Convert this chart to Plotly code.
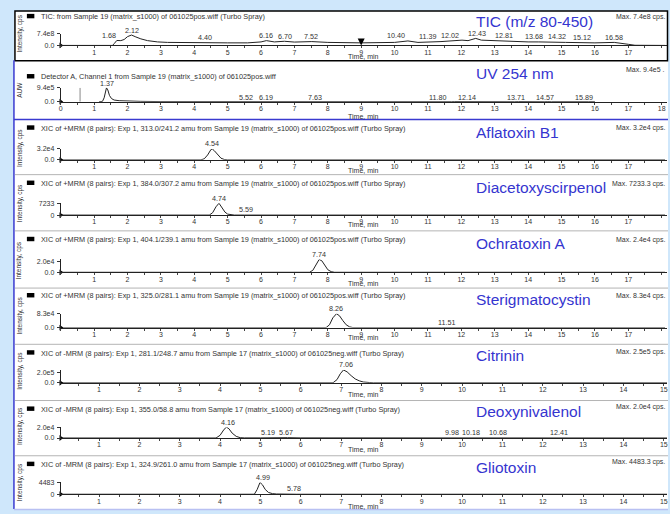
import plotly.graph_objects as go

W, H = 670, 514
FONT = "Liberation Sans"

# ---------------- data ----------------
tic_t = [0, 1.55, 1.60, 1.68, 1.80, 1.90, 2.00, 2.12, 2.25, 2.40, 2.60, 2.90, 3.20, 4.00, 4.40, 5.00,
         5.60, 6.00, 6.16, 6.40, 6.70, 7.00, 7.52, 8.00, 9.00, 10.00, 10.40, 10.70, 11.39, 11.70,
         12.02, 12.20, 12.43, 12.60, 12.81, 13.20, 13.68, 14.00, 14.32, 14.70, 15.12, 16.00, 16.58,
         17.00, 17.20, 18.10]
tic_i = [0, 0, 1.1e8, 3.1e8, 3.0e8, 3.7e8, 5.5e8, 6.5e8, 5.3e8, 4.1e8, 3.0e8, 2.2e8, 1.9e8, 1.6e8, 1.9e8, 1.6e8,
         1.6e8, 2.2e8, 3.0e8, 2.2e8, 2.6e8, 2.1e8, 2.4e8, 1.9e8, 1.6e8, 1.9e8, 2.8e8, 1.9e8, 2.4e8, 2.8e8,
         3.3e8, 3.0e8, 4.4e8, 3.3e8, 3.1e8, 2.6e8, 2.6e8, 2.2e8, 2.2e8, 1.9e8, 1.9e8, 1.6e8, 1.9e8,
         0.7e8, 0.1e8, 0]
tic_peaks = [1.68, 2.12, 4.40, 6.16, 6.70, 7.52, 10.40, 11.39, 12.02, 12.43, 12.81, 13.68, 14.32, 15.12, 16.58]

uv_t = [1.15, 1.25, 1.30, 1.34, 1.37, 1.41, 1.46, 1.52, 1.60, 1.75, 2.00, 2.40, 3.00, 3.50, 3.60, 3.70,
        3.90, 4.00, 4.20, 5.40, 5.52, 5.65, 6.10, 6.19, 6.30, 7.50, 7.63, 7.75, 11.70, 11.80, 11.95,
        12.14, 12.30, 13.60, 13.71, 13.85, 14.50, 14.57, 14.70, 15.80, 15.89, 16.00]
uv_i = [0, 1.5e4, 2.6e5, 7.5e5, 9.4e5, 8.0e5, 4.2e5, 2.1e5, 1.1e5, 6.5e4, 3.8e4, 1.9e4, 5e3, 2e3, 1.8e4, 3e3,
        2e3, 1.6e4, 0, 0, 9e3, 0, 0, 9e3, 0, 0, 9e3, 0, 0, 9e3, 4e3,
        9e3, 0, 0, 9e3, 0, 0, 6e3, 0, 0, 6e3, 0]
uv_peaks = [1.37, 5.52, 6.19, 7.63, 11.80, 12.14, 13.71, 14.57, 15.89]
uv_inject_t = 0.58

afla_t = [0, 4.20, 4.30, 4.40, 4.50, 4.54, 4.60, 4.70, 4.80, 4.90, 5.00, 18.10]
afla_i = [0, 0, 3.2e3, 1.44e4, 3.04e4, 3.2e4, 2.7e4, 1.44e4, 4.8e3, 1.0e3, 0, 0]
afla_peaks = [4.54]

diac_t = [0, 4.45, 4.55, 4.65, 4.74, 4.82, 4.92, 5.00, 5.10, 5.20, 5.50, 5.59, 5.70, 18.10]
diac_i = [0, 0, 1450, 5060, 7233, 5060, 1800, 580, 150, 0, 0, 150, 0, 0]
diac_peaks = [4.74, 5.59]

ochra_t = [0, 7.45, 7.55, 7.65, 7.74, 7.82, 7.92, 8.00, 8.10, 8.20, 18.10]
ochra_i = [0, 0, 3.6e3, 1.44e4, 2.4e4, 2.16e4, 1.2e4, 4.8e3, 1.2e3, 0, 0]
ochra_peaks = [7.74]

ster_t = [0, 7.95, 8.05, 8.15, 8.26, 8.35, 8.45, 8.55, 8.65, 8.75, 11.40, 11.51, 11.60, 18.10]
ster_i = [0, 0, 1.66e4, 5.8e4, 8.3e4, 7.05e4, 4.15e4, 1.66e4, 4.1e3, 0, 0, 1.7e3, 0, 0]
ster_peaks = [8.26, 11.51]

citr_t = [0.05, 6.80, 6.90, 6.98, 7.06, 7.15, 7.25, 7.35, 7.45, 7.55, 7.70, 7.80, 15.08]
citr_i = [0, 0, 6.2e4, 1.75e5, 2.5e5, 2.12e5, 1.38e5, 7.5e4, 3.8e4, 1.5e4, 5e3, 0, 0]
citr_peaks = [7.06]

deox_t = [0.05, 3.90, 4.00, 4.10, 4.16, 4.22, 4.30, 4.40, 4.50, 4.60, 5.00, 5.19, 5.40, 5.67, 6.00,
          7.50, 8.00, 9.60, 9.98, 10.10, 10.18, 10.40, 10.55, 10.68, 10.90, 12.20, 12.41, 12.65, 15.08]
deox_i = [0, 0, 5e3, 1.6e4, 2.0e4, 1.7e4, 9e3, 3e3, 600, 200, 200, 600, 200, 600, 200,
          200, 0, 0, 800, 300, 800, 200, 200, 1000, 0, 0, 800, 0, 0]
deox_peaks = [4.16, 5.19, 5.67, 9.98, 10.18, 10.68, 12.41]

glio_t = [0.05, 4.85, 4.92, 4.99, 5.05, 5.12, 5.20, 5.30, 5.40, 5.60, 5.70, 5.78, 5.90, 15.08]
glio_i = [0, 0, 1800, 4483, 3590, 1800, 670, 220, 90, 0, 0, 90, 0, 0]
glio_peaks = [4.99, 5.78]

headers = [
    "TIC: from Sample 19 (matrix_s1000) of 061025pos.wiff (Turbo Spray)",
    "Detector A, Channel 1 from Sample 19 (matrix_s1000) of 061025pos.wiff",
    "XIC of +MRM (8 pairs): Exp 1, 313.0/241.2 amu from Sample 19 (matrix_s1000) of 061025pos.wiff (Turbo Spray)",
    "XIC of +MRM (8 pairs): Exp 1, 384.0/307.2 amu from Sample 19 (matrix_s1000) of 061025pos.wiff (Turbo Spray)",
    "XIC of +MRM (8 pairs): Exp 1, 404.1/239.1 amu from Sample 19 (matrix_s1000) of 061025pos.wiff (Turbo Spray)",
    "XIC of +MRM (8 pairs): Exp 1, 325.0/281.1 amu from Sample 19 (matrix_s1000) of 061025pos.wiff (Turbo Spray)",
    "XIC of -MRM (8 pairs): Exp 1, 281.1/248.7 amu from Sample 17 (matrix_s1000) of 061025neg.wiff (Turbo Spray)",
    "XIC of -MRM (8 pairs): Exp 1, 355.0/58.8 amu from Sample 17 (matrix_s1000) of 061025neg.wiff (Turbo Spray)",
    "XIC of -MRM (8 pairs): Exp 1, 324.9/261.0 amu from Sample 17 (matrix_s1000) of 061025neg.wiff (Turbo Spray)",
]
titles = ["TIC (m/z 80-450)", "UV 254 nm", "Aflatoxin B1", "Diacetoxyscirpenol", "Ochratoxin A",
          "Sterigmatocystin", "Citrinin", "Deoxynivalenol", "Gliotoxin"]
max_texts = ["Max. 7.4e8 cps.", "Max. 9.4e5 .", "Max. 3.2e4 cps.", "Max. 7233.3 cps.", "Max. 2.4e4 cps.",
             "Max. 8.3e4 cps.", "Max. 2.5e5 cps.", "Max. 2.0e4 cps.", "Max. 4483.3 cps."]
max_vals = [7.4e8, 9.4e5, 3.2e4, 7233.3, 2.4e4, 8.3e4, 2.5e5, 2.0e4, 4483.3]
ytick_vals = [7.4e8, 9.4e5, 3.2e4, 7233, 2.0e4, 8.3e4, 2.0e5, 2.0e4, 4483]
ytick_text = ["7.4e8", "9.4e5", "3.2e4", "7233", "2.0e4", "8.3e4", "2.0e5", "2.0e4", "4483"]
yzero_text = ["0.0", "0.0", "0.0", "0", "0.0", "0.0", "0.0", "0.0", "0"]
ytitles = ["Intensity, cps", "AUW"] + ["Intensity, cps"] * 7
pos_range = [0, 18.16]
neg_range = [0.05, 15.08]
pos_ticks = list(range(1, 18))
uv_ticks = list(range(0, 19))
neg_ticks = list(range(1, 16))
pos_marks = [i / 2 for i in range(0, 37)]
neg_marks = [i / 2 for i in range(1, 31)]

series = [(tic_t, tic_i, tic_peaks), (uv_t, uv_i, uv_peaks), (afla_t, afla_i, afla_peaks),
          (diac_t, diac_i, diac_peaks), (ochra_t, ochra_i, ochra_peaks), (ster_t, ster_i, ster_peaks),
          (citr_t, citr_i, citr_peaks), (deox_t, deox_i, deox_peaks), (glio_t, glio_i, glio_peaks)]
ranges = [pos_range] * 6 + [neg_range] * 3
xticks = [pos_ticks, uv_ticks] + [pos_ticks] * 4 + [neg_ticks] * 3
xmarks = [pos_marks] * 6 + [neg_marks] * 3

# ---------------- layout / style (pixels) ----------------
header_y = [13, 74, 126, 182, 239, 296, 354, 411, 467]
maxtxt_y = [13, 66, 126, 182, 239, 296, 353, 409, 464]
title_y = [18, 70, 130, 186, 243, 300, 356, 413, 470]
base_y = [42, 99, 158, 214, 272, 328, 384, 440, 497]
top_y = [30, 85, 147, 202, 259, 314, 371, 429, 485]
timelab_y = [53.5, 114, 168.5, 224, 283.5, 338.5, 396, 452, 509]
label_yshift = [5, 4.5, 5, 5, 5, 5, 5, 5, 5]
label_xshift = [
    [-8, 0, -3, 0, 1, -1, -12, -13, -12, 1, 16, 17, 18, 16, 0],
    [1, 1, -1, 0, -17, 1, -2, -2, -7],
    [0], [0, -1], [0], [0, 2], [2],
    [1, 0, -1, -9, 2, 8, 0],
    [3, 2],
]
X0, X1 = 59, 668


def px(x):
    return x / W


def py(y):
    return 1 - y / H


fig = go.Figure()
annotations = []
shapes = []

# background panels
shapes.append(dict(type="rect", xref="paper", yref="paper", x0=px(12), x1=px(669), y0=py(512), y1=py(7),
                   fillcolor="white", line=dict(width=0), layer="below"))
shapes.append(dict(type="rect", xref="paper", yref="paper", x0=px(13), x1=px(668.5), y0=py(57.5), y1=py(7),
                   fillcolor="rgba(0,0,0,0)", line=dict(color="black", width=1.5)))
shapes.append(dict(type="line", xref="paper", yref="paper", x0=px(12), x1=px(12), y0=py(512), y1=py(57),
                   line=dict(color="#3a3ad0", width=1.5)))
shapes.append(dict(type="line", xref="paper", yref="paper", x0=px(12), x1=px(669), y0=py(117), y1=py(117),
                   line=dict(color="#3a3ad0", width=1.5)))
for sy in [173, 230, 288, 345, 402, 458]:
    shapes.append(dict(type="line", xref="paper", yref="paper", x0=px(13), x1=px(669), y0=py(sy), y1=py(sy),
                       line=dict(color="#b4b4b4", width=1)))
shapes.append(dict(type="line", xref="paper", yref="paper", x0=px(12), x1=px(669), y0=py(512.5), y1=py(512.5),
                   line=dict(color="#b8c0f2", width=1.5)))

small = dict(family=FONT, size=7, color="#333333")
header_font = dict(family=FONT, size=7.3, color="#333333")

for k in range(9):
    n = k + 1
    m = n + 9
    xs, ys, peaks = series[k]
    xa = "x" if n == 1 else f"x{n}"
    ya = "y" if n == 1 else f"y{n}"
    fig.add_trace(go.Scatter(x=xs, y=ys, mode="lines", line=dict(color="#222222", width=1),
                             xaxis=xa, yaxis=ya, hoverinfo="skip", showlegend=False))
    if k == 1:
        fig.add_trace(go.Scatter(x=[uv_inject_t, uv_inject_t], y=[0, max_vals[1]], mode="lines",
                                 line=dict(color="#b0b0b0", width=1.5), xaxis=xa, yaxis=ya,
                                 hoverinfo="skip", showlegend=False))
    # origin marker
    fig.add_trace(go.Scatter(x=[ranges[k][0]], y=[0], mode="markers", cliponaxis=False,
                             marker=dict(symbol="triangle-right", size=5, color="black"),
                             xaxis=xa, yaxis=ya, hoverinfo="skip", showlegend=False))
    if k == 0:
        fig.add_trace(go.Scatter(x=[9], y=[0], mode="markers", cliponaxis=False,
                                 marker=dict(symbol="arrow-down", size=7, color="black"),
                                 xaxis=xa, yaxis=ya, hoverinfo="skip", showlegend=False))
    # empty trace to host the tick-mark axis
    fig.add_trace(go.Scatter(x=[], y=[], xaxis=f"x{m}", yaxis=ya, showlegend=False, hoverinfo="skip"))

    # main axis: labels only
    fig.layout[f"xaxis{n if n > 1 else ''}"] = dict(
        domain=[px(X0), px(X1)], anchor=ya, range=ranges[k], tickmode="array", tickvals=xticks[k],
        ticks="", showline=True, linecolor="#222", linewidth=1,
        showgrid=False, zeroline=False, tickfont=small, fixedrange=True)
    # overlay axis: small tick marks every half minute
    fig.layout[f"xaxis{m}"] = dict(
        domain=[px(X0), px(X1)], anchor=ya, overlaying=xa, range=ranges[k], tickmode="array",
        tickvals=xmarks[k], ticks="outside", ticklen=2, tickcolor="#444", tickwidth=1,
        showticklabels=False, showline=False, showgrid=False, zeroline=False, fixedrange=True)
    fig.layout[f"yaxis{n if n > 1 else ''}"] = dict(
        domain=[py(base_y[k]), py(top_y[k])], anchor=xa, range=[0, max_vals[k]], tickmode="array",
        tickvals=[0, ytick_vals[k]], ticktext=[yzero_text[k], ytick_text[k]], ticks="outside",
        ticklen=3, tickcolor="#333", showline=True, linecolor="#222", linewidth=1, showgrid=False,
        zeroline=False, tickfont=small, ticklabelstandoff=1, fixedrange=True)

    # header square and text
    hy = header_y[k]
    shapes.append(dict(type="rect", xref="paper", yref="paper", x0=px(25), x1=px(32.5),
                       y0=py(hy + 1.5), y1=py(hy - 3), fillcolor="black", line=dict(width=0)))
    annotations.append(dict(text=headers[k], xref="paper", yref="paper", x=px(37), y=py(hy),
                            xanchor="left", yanchor="middle", showarrow=False, font=header_font))
    annotations.append(dict(text=max_texts[k], xref="paper", yref="paper", x=px(668), y=py(maxtxt_y[k]),
                            xanchor="right", yanchor="middle", showarrow=False, font=small))
    annotations.append(dict(text=titles[k], xref="paper", yref="paper", x=px(474), y=py(title_y[k]),
                            xanchor="left", yanchor="middle", showarrow=False,
                            font=dict(family=FONT, size=15.5, color="#3535cf")))
    annotations.append(dict(text=ytitles[k], xref="paper", yref="paper", x=px(18), y=py(base_y[k] - 12),
                            xanchor="center", yanchor="middle", textangle=-90, showarrow=False,
                            font=dict(family=FONT, size=6.5, color="#333333")))
    annotations.append(dict(text="Time, min", xref="paper", yref="paper", x=px((X0 + X1) / 2),
                            y=py(timelab_y[k]), xanchor="center", yanchor="middle", showarrow=False,
                            font=small))
    # peak labels
    for j, rt in enumerate(peaks):
        idx = xs.index(rt)
        annotations.append(dict(text=f"{rt:.2f}", xref=xa, yref=ya, x=rt, y=ys[idx],
                                xanchor="center", yanchor="middle", xshift=label_xshift[k][j],
                                yshift=label_yshift[k], showarrow=False,
                                font=dict(family=FONT, size=7.2, color="#333333")))

fig.update_layout(width=W, height=H, margin=dict(l=0, r=0, t=0, b=0), paper_bgcolor="#cfe7fb",
                  plot_bgcolor="rgba(0,0,0,0)", showlegend=False, annotations=annotations, shapes=shapes,
                  font=dict(family=FONT))
fig.write_html("out.html", config={"displayModeBar": False, "staticPlot": True},
               post_script="document.body.style.margin='0';document.body.style.overflow='hidden';")
